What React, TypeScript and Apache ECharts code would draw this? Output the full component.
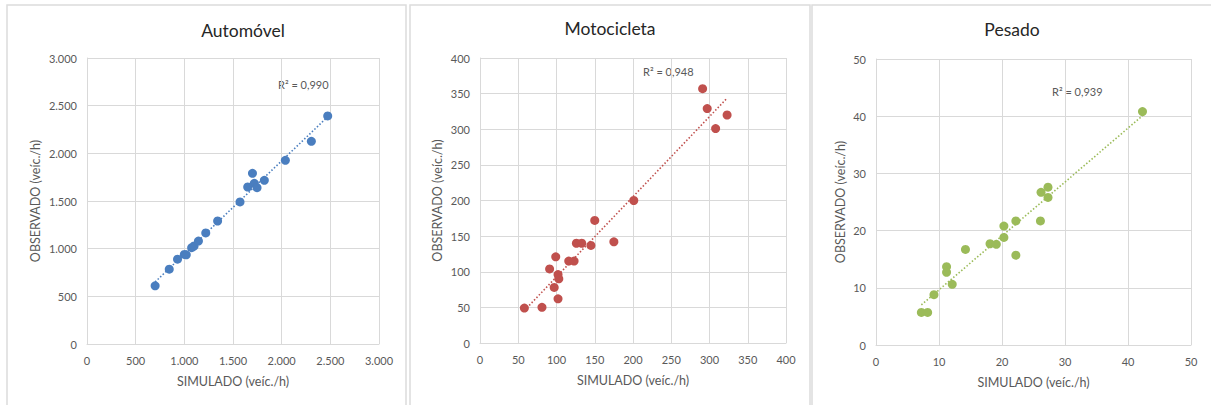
import React, { useEffect, useRef } from "react";
import * as echarts from "echarts";

// Automóvel
const autoSim = [700, 845, 930, 1000, 1020, 1075, 1100, 1145, 1220, 1342, 1572, 1651, 1700, 1719, 1747, 1822, 2038, 2305, 2473];
const autoObs = [610, 785, 890, 940, 935, 1010, 1028, 1080, 1165, 1290, 1490, 1647, 1790, 1685, 1640, 1717, 1927, 2126, 2392];
// Motocicleta
const motoSim = [58, 81, 102, 97, 91, 99, 102, 103, 116, 123, 126, 133, 145, 150, 175, 201, 291, 297, 308, 323];
const motoObs = [49, 50, 62, 78, 104, 121, 96, 90, 115, 115, 140, 140, 137, 172, 142, 200, 357, 329, 301, 320];
// Pesado
const pesSim = [7.2, 8.2, 9.2, 11.2, 11.2, 12.1, 14.2, 18.1, 19.1, 20.3, 20.3, 22.2, 22.2, 26.1, 26.2, 27.3, 27.3, 42.3];
const pesObs = [5.7, 5.7, 8.8, 13.7, 12.7, 10.6, 16.7, 17.7, 17.6, 20.8, 18.8, 21.7, 15.7, 21.7, 26.7, 27.6, 25.8, 40.8];

const titles = ["Automóvel", "Motocicleta", "Pesado"];
const r2Labels = ["R² = 0,990", "R² = 0,948", "R² = 0,939"];
const axisMax = [3000, 400, 50];
const axisInterval = [500, 50, 10];
const xName = "SIMULADO (veíc./h)";
const yName = "OBSERVADO (veíc./h)";
const colors = ["#4A7EBF", "#C0504D", "#9BBB59"];

const FONT = "Lato, 'Open Sans', sans-serif";

function fit(xs: number[], ys: number[]) {
  const n = xs.length;
  const mx = xs.reduce((a, b) => a + b, 0) / n;
  const my = ys.reduce((a, b) => a + b, 0) / n;
  let sxy = 0, sxx = 0;
  for (let i = 0; i < n; i++) {
    sxy += (xs[i] - mx) * (ys[i] - my);
    sxx += (xs[i] - mx) * (xs[i] - mx);
  }
  const b = sxy / sxx;
  const a = my - b * mx;
  const x0 = Math.min(...xs);
  const x1 = Math.max(...xs);
  return [[x0, a + b * x0], [x1, a + b * x1]];
}

function fmtThousands(v: number) {
  const s = String(Math.round(v));
  return s.replace(/\B(?=(\d{3})+(?!\d))/g, ".");
}

export default function App() {
  const ref = useRef<HTMLDivElement>(null);
  useEffect(() => {
    if (!ref.current) return;
    const chart = echarts.init(ref.current, undefined, { renderer: "svg" });
    const grids = [
      { left: 87, top: 58, width: 292, height: 286 },
      { left: 480, top: 58, width: 306, height: 285 },
      { left: 876, top: 59, width: 315, height: 286 },
    ];
    const yGaps = [45, 36, 29];
    const titleX = [243, 610, 1012];
    const titleY = [21, 19, 20];
    const r2Pos = [[278, 84], [643, 71], [1052, 91]];
    const sets = [
      [autoSim, autoObs],
      [motoSim, motoObs],
      [pesSim, pesObs],
    ];
    const gridLine = "#D9D9D9";
    const labelColor = "#595959";
    const axisCommon = (i: number) => ({
      gridIndex: i,
      type: "value",
      min: 0,
      max: axisMax[i],
      interval: axisInterval[i],
      axisLine: { show: true, lineStyle: { color: gridLine, width: 1 } },
      axisTick: { show: false },
      splitLine: { show: true, lineStyle: { color: gridLine, width: 1 } },
      axisLabel: {
        color: labelColor,
        fontFamily: FONT,
        fontSize: 11,
        formatter: (v: number) => (i === 0 ? fmtThousands(v) : String(v)),
      },
      nameLocation: "middle",
      nameTextStyle: { color: labelColor, fontFamily: FONT, fontSize: 12.5 },
    });
    const xAxis = grids.map((_, i) => ({
      ...axisCommon(i),
      name: xName,
      nameGap: 31,
      axisLabel: { ...axisCommon(i).axisLabel, margin: 11 },
    }));
    const yAxis = grids.map((_, i) => ({
      ...axisCommon(i),
      name: yName,
      nameGap: yGaps[i],
      axisLabel: { ...axisCommon(i).axisLabel, margin: 10 },
    }));
    const series: any[] = [];
    sets.forEach(([xs, ys], i) => {
      series.push({
        type: "scatter",
        xAxisIndex: i,
        yAxisIndex: i,
        symbolSize: 9,
        itemStyle: { color: colors[i], opacity: 1 },
        data: xs.map((x, k) => [x, ys[k]]),
        z: 3,
      });
      series.push({
        type: "line",
        xAxisIndex: i,
        yAxisIndex: i,
        symbol: "none",
        data: fit(xs, ys),
        lineStyle: { color: colors[i], width: 1.6, type: [1.5, 2] },
        z: 2,
      });
    });
    const graphic: any[] = [
      { type: "rect", shape: { x: 7, y: 5, width: 399, height: 420 }, style: { fill: "none", stroke: "#DCDCDC", lineWidth: 1.5 }, silent: true },
      { type: "rect", shape: { x: 410, y: 5, width: 400, height: 420 }, style: { fill: "none", stroke: "#DCDCDC", lineWidth: 1.5 }, silent: true },
      { type: "rect", shape: { x: 812, y: 5, width: 420, height: 420 }, style: { fill: "none", stroke: "#DCDCDC", lineWidth: 1.5 }, silent: true },
    ];
    r2Labels.forEach((t, i) => {
      graphic.push({
        type: "text",
        x: r2Pos[i][0],
        y: r2Pos[i][1],
        style: { text: t, fill: labelColor, font: `11px ${FONT}`, verticalAlign: "middle", textAlign: "left" },
      });
    });
    chart.setOption({
      animation: false,
      backgroundColor: "#FFFFFF",
      title: titles.map((t, i) => ({
        text: t,
        left: titleX[i],
        top: titleY[i],
        textAlign: "center",
        padding: 0,
        textStyle: { color: "#262626", fontFamily: FONT, fontSize: 17.5, fontWeight: "normal" },
      })),
      grid: grids,
      xAxis,
      yAxis,
      series,
      graphic,
    });
    return () => chart.dispose();
  }, []);
  return (
    <div
      ref={ref}
      style={{ position: "absolute", left: 0, top: 0, width: 1211, height: 405 }}
    />
  );
}
